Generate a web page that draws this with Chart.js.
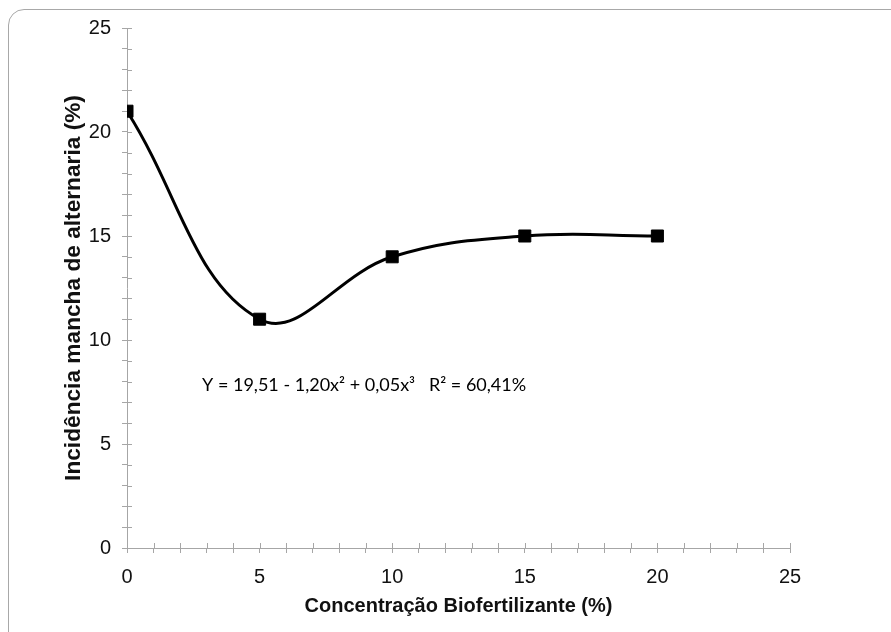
<!DOCTYPE html>
<html>
<head>
<meta charset="utf-8">
<script src="https://cdn.jsdelivr.net/npm/chart.js@4/dist/chart.umd.min.js"></script>
<style>
  html, body { margin: 0; padding: 0; background: #fff; overflow: hidden; }
  #wrap { position: relative; width: 891px; height: 632px; }
  #frame {
    position: absolute; left: 8px; top: 9px; width: 1000px; height: 1000px;
    border: 1px solid #a8a8a8; border-radius: 16px; box-sizing: border-box;
  }
  canvas { position: absolute; left: 0; top: 0; }
</style>
</head>
<body>
<div id="wrap">
  <div id="frame"></div>
  <canvas id="chart" width="891" height="632"></canvas>
</div>
<script>
// Chart data
const concentration = [0, 5, 10, 15, 20];
const incidence = [21, 11, 14, 15, 15];
const xTicks = [0, 5, 10, 15, 20, 25];
const yTicks = [0, 5, 10, 15, 20, 25];

const xTitle = "Concentração Biofertilizante (%)";
const yTitle = "Incidência mancha de alternaria (%)";
const equation = "Y = 19,51 - 1,20x\u00B2 + 0,05x\u00B3   R\u00B2 = 60,41%";
// where the equation sits, in data units
const equationAt = { x: 2.83, y: 7.84 };

const axisColor = "#a6a6a6";

// ticks that cross the axis: Chart.js draws the outer half, this draws the inner half
const innerTicks = {
  id: "innerTicks",
  beforeDatasetsDraw(chart) {
    const ctx = chart.ctx;
    const area = chart.chartArea;
    const xs = chart.scales.x;
    const ys = chart.scales.y;
    ctx.save();
    ctx.strokeStyle = axisColor;
    ctx.lineWidth = 1;
    ctx.beginPath();
    xs.ticks.forEach(t => {
      const px = Math.round(xs.getPixelForValue(t.value)) + 0.5;
      ctx.moveTo(px, area.bottom - 5);
      ctx.lineTo(px, area.bottom);
    });
    ys.ticks.forEach(t => {
      const py = Math.round(ys.getPixelForValue(t.value)) + 0.5;
      ctx.moveTo(area.left, py);
      ctx.lineTo(area.left + 5, py);
    });
    ctx.stroke();
    ctx.restore();
  }
};

const equationLabel = {
  id: "equationLabel",
  afterDatasetsDraw(chart) {
    const ctx = chart.ctx;
    ctx.save();
    ctx.font = "18px Lato, 'Open Sans', sans-serif";
    ctx.fillStyle = "#000";
    ctx.textAlign = "left";
    ctx.textBaseline = "middle";
    ctx.fillText(equation,
      chart.scales.x.getPixelForValue(equationAt.x),
      chart.scales.y.getPixelForValue(equationAt.y));
    ctx.restore();
  }
};

const points = concentration.map((c, i) => ({ x: c, y: incidence[i] }));

new Chart(document.getElementById("chart"), {
  type: "line",
  data: {
    datasets: [{
      data: points,
      borderColor: "#000",
      borderWidth: 3,
      backgroundColor: "#000",
      fill: false,
      tension: 0.4,
      pointStyle: "rect",
      pointRadius: 8.5,
      pointBorderWidth: 1,
      pointBackgroundColor: "#000",
      pointBorderColor: "#000"
    }]
  },
  options: {
    responsive: false,
    animation: false,
    layout: { padding: { left: 0, top: 28, right: 101, bottom: 0 } },
    plugins: {
      legend: { display: false },
      tooltip: { enabled: false }
    },
    scales: {
      x: {
        type: "linear",
        min: 0,
        max: 25,
        afterFit(scale) { scale.height = 84; },
        border: { display: true, color: axisColor, width: 1 },
        grid: { display: true, drawOnChartArea: false, drawTicks: true, tickLength: 5, color: axisColor },
        ticks: {
          stepSize: 1,
          autoSkip: false,
          maxRotation: 0,
          padding: 12,
          color: "#111",
          font: { family: "'Liberation Sans', Arial, sans-serif", size: 20 },
          callback: v => (xTicks.includes(v) ? v : "")
        },
        title: {
          display: true,
          text: xTitle,
          color: "#111",
          font: { family: "'Liberation Sans', Arial, sans-serif", size: 20, weight: "bold" },
          padding: { top: 0, bottom: 13.5 }
        }
      },
      y: {
        min: 0,
        max: 25,
        afterFit(scale) { scale.width = 127; },
        border: { display: true, color: axisColor, width: 1 },
        grid: { display: true, drawOnChartArea: false, drawTicks: true, tickLength: 5, color: axisColor },
        ticks: {
          stepSize: 1,
          autoSkip: false,
          padding: 11,
          color: "#111",
          font: { family: "'Liberation Sans', Arial, sans-serif", size: 20 },
          callback: v => (yTicks.includes(v) ? v : "")
        },
        title: {
          display: true,
          text: yTitle,
          color: "#111",
          font: { family: "'Liberation Sans', Arial, sans-serif", size: 22.7, weight: "bold" },
          padding: { top: 60, bottom: 0 }
        }
      }
    }
  },
  plugins: [innerTicks, equationLabel]
});
</script>
</body>
</html>
